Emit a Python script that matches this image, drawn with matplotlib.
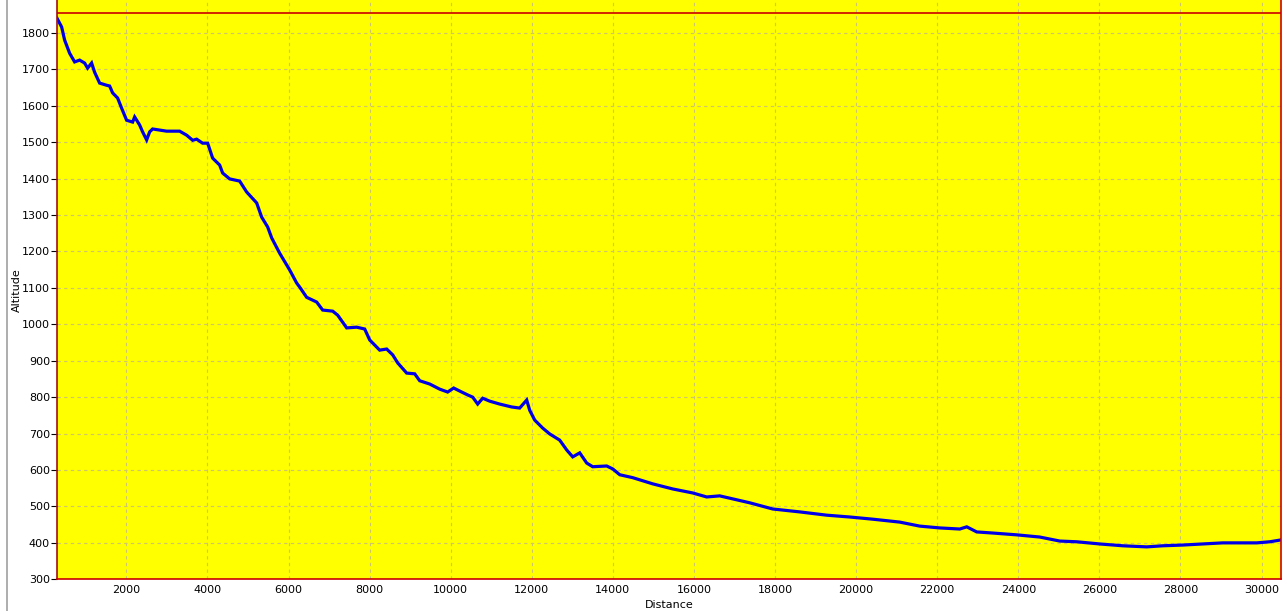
import numpy as np
import matplotlib
matplotlib.use("Agg")
import matplotlib.pyplot as plt
from matplotlib.lines import Line2D

distance = [290, 404, 478, 601, 725, 848, 971, 1045, 1144, 1217, 1341, 1514, 1588, 1662,
            1785, 1884, 2007, 2155, 2205, 2328, 2402, 2501, 2575, 2649, 2994, 3315, 3488,
            3636, 3735, 3882, 4006, 4129, 4302, 4376, 4549, 4795, 4968, 5215, 5338, 5486,
            5585, 5782, 6029, 6202, 6276, 6448, 6695, 6843, 7090, 7213, 7435, 7682, 7879,
            8002, 8249, 8422, 8570, 8693, 8915, 9113, 9236, 9483, 9729, 9926, 10074, 10272,
            10420, 10543, 10666, 10790, 10962, 11209, 11505, 11702, 11875, 11949, 12073,
            12270, 12443, 12689, 12862, 13010, 13183, 13356, 13504, 13849, 13997, 14170,
            14490, 14984, 15477, 15970, 16316, 16636, 17376, 17944, 18610, 19276, 19843,
            20411, 21077, 21570, 22064, 22557, 22730, 22976, 23371, 23963, 24530, 25024,
            25443, 26010, 26578, 27170, 27564, 28058, 28551, 29045, 29464, 29883, 30204,
            30476]
altitude = [1840, 1816, 1780, 1744, 1720, 1725, 1717, 1703, 1717, 1692, 1662, 1656, 1654, 1635,
            1621, 1593, 1560, 1555, 1569, 1547, 1528, 1506, 1528, 1536, 1530, 1530, 1519,
            1505, 1508, 1497, 1497, 1456, 1437, 1415, 1399, 1393, 1363, 1333, 1294, 1267,
            1237, 1195, 1149, 1113, 1102, 1074, 1061, 1039, 1036, 1025, 990, 992, 987,
            957, 929, 932, 916, 894, 866, 864, 845, 836, 822, 814, 825, 814,
            806, 800, 781, 797, 789, 781, 773, 770, 792, 764, 737,
            715, 699, 682, 655, 636, 647, 619, 609, 611, 603, 587,
            579, 562, 548, 537, 526, 529, 510, 493, 485, 476, 471,
            465, 457, 446, 441, 438, 444, 430, 427, 422, 416, 405,
            403, 397, 392, 389, 392, 394, 397, 400, 400, 400, 403,
            408]

x_ticks = np.arange(2000, 30001, 2000)
y_ticks = np.arange(300, 1801, 100)
max_alt = 1853

red = '#cc0000'

fig = plt.figure(figsize=(12.84, 6.11), dpi=100)
ax = fig.add_axes([57 / 1284, 1 - 579.3 / 611, (1281 - 57) / 1284, 579.3 / 611])
ax.set_facecolor('#ffff00')

ax.plot(distance, altitude, color='#0000e6', linewidth=2.3, solid_joinstyle='miter')
ax.axhline(max_alt, color=red, linewidth=1.2)

ax.set_xlim(290, 30480)
ax.set_ylim(300, 1890)
ax.set_xticks(x_ticks)
ax.set_yticks(y_ticks)
ax.tick_params(axis='x', length=0, pad=4, labelsize=8)
ax.tick_params(axis='y', length=4, width=0.8, pad=1, labelsize=8)

ax.grid(True, color='#cfc46e', linestyle=(0, (3, 3)), linewidth=0.8)

for s in ['left', 'bottom', 'right']:
    ax.spines[s].set_color(red)
    ax.spines[s].set_linewidth(1.2)
ax.spines['left'].set_color('#a01010')
ax.spines['top'].set_visible(False)

ax.set_xlabel('Distance', fontsize=8)
ax.set_ylabel('Altitude', fontsize=8)
ax.xaxis.set_label_coords(0.5, -0.035)
ax.yaxis.set_label_coords(-0.029, 0.5)

# borde gris del marco
fig.add_artist(Line2D([7 / 1284, 7 / 1284], [0, 1], color='#a0a0a0', linewidth=1.2,
                      transform=fig.transFigure))

fig.savefig('out.png', dpi=100, facecolor='white')
